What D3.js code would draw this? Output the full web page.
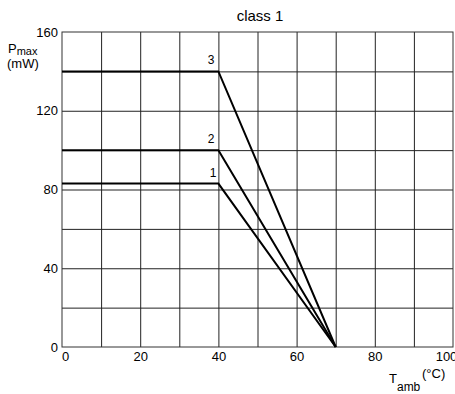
<!DOCTYPE html>
<html>
<head>
<meta charset="utf-8">
<script src="https://cdn.jsdelivr.net/npm/d3@7"></script>
<style>
  body { margin: 0; background: #fff; }
  text { font-family: "Liberation Sans", Arial, sans-serif; fill: #000; }
</style>
</head>
<body>
<div id="chart"></div>
<script>
// curve data: flat Pmax up to the knee, then straight down to zero
let curveNames = ["1", "2", "3"];
let pFlat = [83, 100, 140];
let tKnee = [40, 40, 40];
let tZero = [70, 70, 70];

let xTicks = [0, 20, 40, 60, 80, 100];
let yTicks = [0, 40, 80, 120, 160];
let xGrid = [10, 20, 30, 40, 50, 60, 70, 80, 90];
let yGrid = [20, 40, 60, 80, 100, 120, 140];

let svgWidth = 455;
let svgHeight = 394;

let margin = { top: 32, right: 2, bottom: 47, left: 62 };
let width = svgWidth - (margin.left + margin.right);
let height = svgHeight - (margin.top + margin.bottom);

let svg = d3.select("#chart")
  .append("svg")
  .attr("width", svgWidth)
  .attr("height", svgHeight);

let chartGroup = svg.append("g")
  .attr("transform", `translate(${margin.left}, ${margin.top})`);

let x = d3.scaleLinear().domain([0, 100]).range([0, width]);
let y = d3.scaleLinear().domain([0, 160]).range([height, 0]);

// grid lines
chartGroup.append("g")
  .attr("transform", `translate(0,${height})`)
  .call(d3.axisBottom(x).tickValues(xGrid).tickSize(-height).tickFormat(""))
  .call(g => g.select(".domain").remove())
  .selectAll("line").attr("stroke", "#222").attr("stroke-width", 1);

chartGroup.append("g")
  .call(d3.axisLeft(y).tickValues(yGrid).tickSize(-width).tickFormat(""))
  .call(g => g.select(".domain").remove())
  .selectAll("line").attr("stroke", "#222").attr("stroke-width", 1);

// frame
chartGroup.append("rect")
  .attr("x", 0).attr("y", 0)
  .attr("width", width).attr("height", height)
  .attr("fill", "none")
  .attr("stroke", "#333")
  .attr("stroke-width", 1);

// tick labels
let xAxis = chartGroup.append("g")
  .attr("transform", `translate(0,${height})`)
  .call(d3.axisBottom(x).tickValues(xTicks).tickSize(0).tickPadding(5));
xAxis.select(".domain").remove();
xAxis.selectAll("text")
  .attr("font-size", "13px")
  .attr("font-family", null)
  .attr("dx", d => d === 0 ? 3 : (d === 100 ? -7 : 0));

let yAxis = chartGroup.append("g")
  .call(d3.axisLeft(y).tickValues(yTicks).tickSize(0).tickPadding(4));
yAxis.select(".domain").remove();
yAxis.selectAll("text")
  .attr("font-size", "13px")
  .attr("font-family", null);

// derating curves
let line = d3.line().x(d => x(d[0])).y(d => y(d[1]));
curveNames.forEach(function(name, i) {
  let pts = [[0, pFlat[i]], [tKnee[i], pFlat[i]], [tZero[i], 0]];
  chartGroup.append("path")
    .attr("d", line(pts))
    .attr("fill", "none")
    .attr("stroke", "#000")
    .attr("stroke-width", 2)
    .attr("stroke-linejoin", "miter");

  chartGroup.append("text")
    .attr("x", x(tKnee[i]) - (name === "1" ? 2 : 4))
    .attr("y", y(pFlat[i]) - 7)
    .attr("text-anchor", "end")
    .attr("font-size", "12px")
    .text(name);
});

// title
svg.append("text")
  .attr("x", 260)
  .attr("y", 21)
  .attr("text-anchor", "middle")
  .attr("font-size", "15px")
  .text("class 1");

// y axis label
let yLab = svg.append("text").attr("x", 8).attr("y", 53).attr("font-size", "13px");
yLab.append("tspan").text("P");
yLab.append("tspan").attr("dy", 2).attr("font-size", "11px").text("max");
svg.append("text")
  .attr("x", 7).attr("y", 68)
  .attr("font-size", "13px")
  .text("(mW)");

// x axis label
let xLab = svg.append("text").attr("x", 389).attr("y", 383).attr("font-size", "13px");
xLab.append("tspan").text("T");
xLab.append("tspan").attr("dy", 8).attr("font-size", "12px").text("amb");
svg.append("text")
  .attr("x", 422).attr("y", 378)
  .attr("font-size", "13px")
  .text("(\u00B0C)");
</script>
</body>
</html>
